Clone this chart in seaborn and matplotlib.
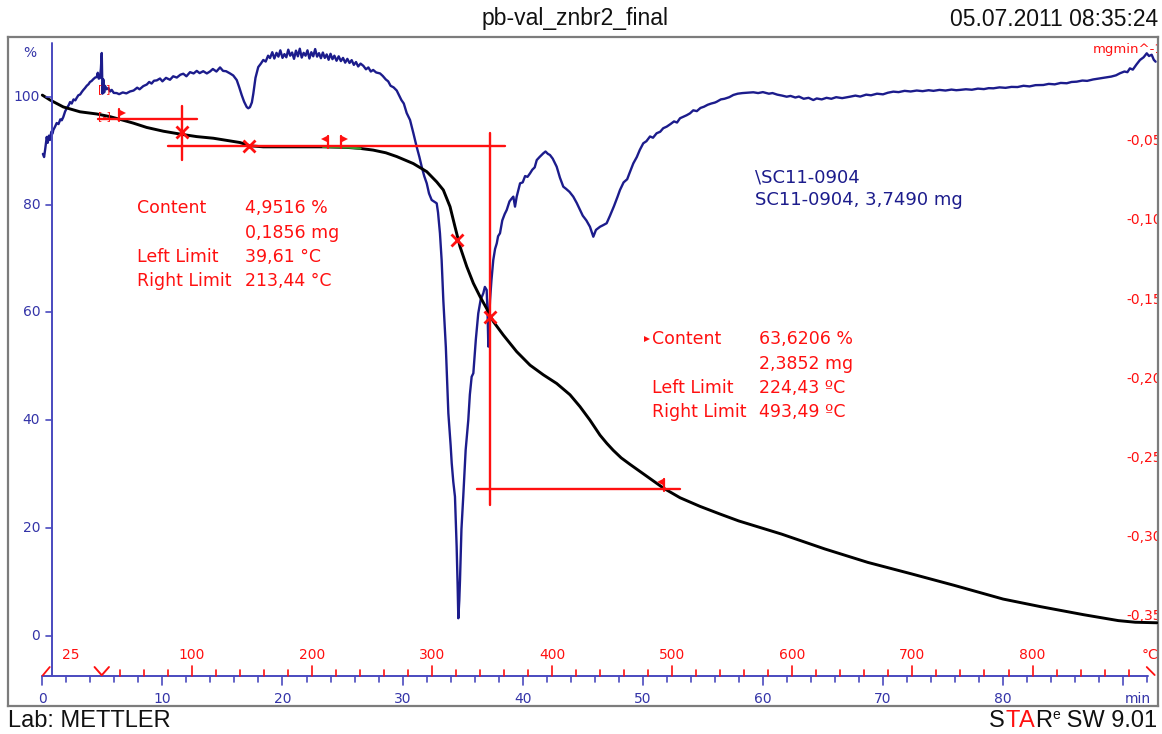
import matplotlib
matplotlib.use("Agg")
import matplotlib.pyplot as plt
import numpy as np
import pandas as pd
import seaborn as sns

sns.set_theme(style="white")
plt.rcParams["font.family"] = ["DejaVu Sans"]

# ---------------------------------------------------------------- data
# TGA mass curve: time (min) vs. remaining mass (%)
tga_time = [0.0, 0.64, 1.75, 3.14, 4.53, 5.64, 6.47, 7.58, 8.69, 10.08, 11.66,
            12.86, 14.24, 15.63, 16.46, 17.29, 18.40, 21.46, 23.37, 25.35, 26.50,
            27.54, 28.60, 29.51, 30.89, 32.01, 32.84, 33.39, 33.95, 34.36, 34.78,
            35.34, 35.89, 36.45, 37.00, 37.55, 38.38, 39.50, 40.61, 41.72, 42.83,
            43.94, 44.77, 45.60, 46.44, 47.00, 47.54, 48.20, 48.93, 50.32, 51.71,
            53.10, 54.76, 56.40, 57.98, 61.56, 65.15, 68.74, 72.33, 75.92, 80.00,
            83.10, 86.70, 89.60, 91.00, 92.80]
tga_mass = [100.3, 99.4, 98.1, 97.2, 96.8, 96.3, 95.8, 95.1, 94.3, 93.6, 93.0,
            92.6, 92.3, 91.8, 91.5, 90.9, 90.7, 90.7, 90.7, 90.6, 90.4,
            90.1, 89.6, 88.9, 87.6, 86.1, 84.2, 82.7, 79.6, 75.9, 72.2,
            68.5, 65.4, 62.9, 60.7, 58.3, 55.8, 52.7, 50.2, 48.4, 46.8,
            44.7, 42.5, 40.0, 37.2, 35.7, 34.4, 33.0, 31.8, 29.6, 27.4,
            25.6, 24.0, 22.6, 21.3, 18.85, 16.1, 13.6, 11.5, 9.35, 6.8,
            5.4, 3.9, 2.8, 2.5, 2.4]

# DTG curve (mg/min) as (time, rate) pairs, split by segment
dtg_isothermal = [
    (0.05, -0.0580), (0.15, -0.0600), (0.25, -0.0545), (0.37, -0.0473), (0.45, -0.0510),
    (0.55, -0.0465), (0.64, -0.0492), (0.75, -0.0440), (0.85, -0.0452), (0.92, -0.0429),
    (1.05, -0.0410), (1.20, -0.0385), (1.35, -0.0392), (1.50, -0.0362), (1.62, -0.0368),
    (1.75, -0.0347), (1.90, -0.0312), (2.05, -0.0290), (2.20, -0.0272), (2.31, -0.0253),
    (2.45, -0.0262), (2.60, -0.0236), (2.75, -0.0242), (2.86, -0.0227), (3.00, -0.0210),
    (3.15, -0.0205), (3.30, -0.0188), (3.41, -0.0177), (3.55, -0.0165), (3.70, -0.0150),
    (3.85, -0.0140), (3.97, -0.0126), (4.10, -0.0120), (4.25, -0.0108), (4.40, -0.0098),
    (4.53, -0.0095), (4.62, -0.0068), (4.70, -0.0105), (4.80, -0.0101), (4.88, -0.0040),
    (4.95, 0.0057), (5.01, -0.0200), (5.08, -0.0110), (5.15, -0.0192), (5.22, -0.0150),
    (5.35, -0.0172), (5.50, -0.0164), (5.65, -0.0186), (5.78, -0.0176)]
dtg_first_step = [
    (5.95, -0.0195), (6.19, -0.0196), (6.40, -0.0203), (6.70, -0.0192), (7.00, -0.0198),
    (7.30, -0.0186), (7.60, -0.0180), (7.90, -0.0162), (8.10, -0.0172), (8.41, -0.0152),
    (8.70, -0.0142), (8.90, -0.0126), (9.10, -0.0136), (9.30, -0.0118), (9.53, -0.0116),
    (9.80, -0.0104), (10.00, -0.0122), (10.30, -0.0100), (10.63, -0.0112), (10.90, -0.0090),
    (11.20, -0.0098), (11.50, -0.0080), (11.74, -0.0074), (12.00, -0.0090), (12.30, -0.0064),
    (12.60, -0.0072), (12.86, -0.0056), (13.10, -0.0070), (13.40, -0.0058), (13.70, -0.0072),
    (13.96, -0.0060), (14.20, -0.0044), (14.50, -0.0060), (14.80, -0.0034), (15.05, -0.0056),
    (15.30, -0.0058), (15.63, -0.0072), (15.90, -0.0085), (16.19, -0.0114), (16.40, -0.0160),
    (16.60, -0.0208), (16.80, -0.0250), (17.02, -0.0284), (17.15, -0.0292), (17.29, -0.0285),
    (17.45, -0.0255), (17.57, -0.0200), (17.75, -0.0100), (17.98, -0.0032), (18.20, -0.0010),
    (18.40, 0.0013), (18.60, 0.0003), (18.80, 0.0040), (18.96, 0.0025)]
dtg_plateau = [
    (19.15, 0.0062), (19.32, 0.0022), (19.50, 0.0058), (19.66, 0.0034), (19.82, 0.0074),
    (20.00, 0.0026), (20.16, 0.0050), (20.32, 0.0030), (20.48, 0.0078), (20.64, 0.0040),
    (20.80, 0.0060), (20.96, 0.0020), (21.12, 0.0072), (21.28, 0.0036), (21.44, 0.0084),
    (21.60, 0.0028), (21.76, 0.0058), (21.92, 0.0040), (22.08, 0.0074), (22.24, 0.0022),
    (22.40, 0.0062), (22.56, 0.0036), (22.72, 0.0082), (22.88, 0.0034), (23.04, 0.0056),
    (23.20, 0.0024), (23.36, 0.0060), (23.52, 0.0026), (23.68, 0.0048), (23.84, 0.0014),
    (24.00, 0.0052), (24.16, 0.0018), (24.32, 0.0040), (24.50, 0.0008), (24.68, 0.0036),
    (24.86, 0.0006), (25.04, 0.0026), (25.22, -0.0004), (25.40, 0.0020), (25.58, -0.0006),
    (25.76, 0.0012), (25.94, -0.0018), (26.12, 0.0000), (26.30, -0.0028), (26.50, -0.0010),
    (26.73, -0.0024), (26.95, -0.0046), (27.15, -0.0034), (27.35, -0.0060), (27.55, -0.0050),
    (27.80, -0.0066), (28.12, -0.0072), (28.35, -0.0088), (28.60, -0.0110), (28.80, -0.0122),
    (29.00, -0.0150), (29.25, -0.0160), (29.51, -0.0180), (29.70, -0.0210), (29.90, -0.0240),
    (30.10, -0.0262), (30.34, -0.0322)]
dtg_main_step = [
    (30.62, -0.0366), (30.90, -0.0450), (31.17, -0.0535), (31.40, -0.0600), (31.59, -0.0661),
    (31.80, -0.0720), (32.01, -0.0766), (32.20, -0.0830), (32.42, -0.0871), (32.60, -0.0880),
    (32.84, -0.0892), (32.95, -0.0950), (33.11, -0.1081), (33.25, -0.1250), (33.39, -0.1503),
    (33.60, -0.1800), (33.81, -0.2218), (34.00, -0.2420), (34.09, -0.2533), (34.22, -0.2650),
    (34.36, -0.2744), (34.50, -0.3060), (34.58, -0.3300), (34.64, -0.3512), (34.72, -0.3400),
    (34.78, -0.3270), (34.90, -0.2950), (35.05, -0.2744), (35.25, -0.2450), (35.47, -0.2260),
    (35.60, -0.2100), (35.75, -0.1987), (35.89, -0.1965), (36.10, -0.1750), (36.30, -0.1587),
    (36.50, -0.1500), (36.72, -0.1460), (36.85, -0.1420), (37.00, -0.1439), (37.08, -0.1600),
    (37.14, -0.1797), (37.20, -0.1650), (37.28, -0.1503), (37.40, -0.1376), (37.55, -0.1250),
    (37.70, -0.1180), (37.84, -0.1145), (37.95, -0.1100), (38.11, -0.1081), (38.30, -0.1000),
    (38.50, -0.0960), (38.67, -0.0934), (38.90, -0.0880), (39.10, -0.0860), (39.22, -0.0850),
    (39.36, -0.0913), (39.50, -0.0850), (39.78, -0.0766), (40.00, -0.0760), (40.20, -0.0720),
    (40.40, -0.0725), (40.61, -0.0703), (40.80, -0.0680), (41.00, -0.0665), (41.17, -0.0619),
    (41.40, -0.0600), (41.72, -0.0576), (41.90, -0.0565), (42.10, -0.0580), (42.27, -0.0587),
    (42.50, -0.0610), (42.83, -0.0661), (43.10, -0.0730), (43.38, -0.0787), (43.60, -0.0800),
    (43.90, -0.0820), (44.21, -0.0850), (44.50, -0.0890), (44.77, -0.0934), (45.00, -0.0970),
    (45.30, -0.1000), (45.60, -0.1040), (45.88, -0.1103), (46.10, -0.1060), (46.44, -0.1040),
    (46.70, -0.1030), (46.99, -0.1018), (47.27, -0.0970), (47.60, -0.0910), (47.90, -0.0850),
    (48.10, -0.0808), (48.40, -0.0760), (48.70, -0.0740), (48.90, -0.0700), (49.21, -0.0640)]
dtg_tail = [
    (49.50, -0.0600), (49.75, -0.0555), (50.04, -0.0513), (50.30, -0.0500), (50.60, -0.0470),
    (50.85, -0.0478), (51.15, -0.0450), (51.45, -0.0440), (51.70, -0.0418), (51.99, -0.0408),
    (52.30, -0.0392), (52.60, -0.0375), (52.85, -0.0382), (53.10, -0.0355), (53.40, -0.0345),
    (53.65, -0.0336), (53.93, -0.0324), (54.20, -0.0305), (54.50, -0.0310), (54.80, -0.0290),
    (55.10, -0.0282), (55.40, -0.0270), (55.70, -0.0262), (56.00, -0.0256), (56.15, -0.0251),
    (56.50, -0.0236), (56.80, -0.0232), (57.20, -0.0222), (57.54, -0.0208), (57.90, -0.0200),
    (58.30, -0.0196), (58.70, -0.0194), (59.20, -0.0191), (59.60, -0.0196), (60.00, -0.0190),
    (60.50, -0.0200), (60.80, -0.0196), (61.20, -0.0206), (61.60, -0.0212), (61.98, -0.0219),
    (62.30, -0.0214), (62.70, -0.0224), (63.00, -0.0218), (63.40, -0.0232), (63.80, -0.0226),
    (64.20, -0.0240), (64.48, -0.0230), (64.90, -0.0236), (65.30, -0.0226), (65.70, -0.0232),
    (66.10, -0.0222), (66.60, -0.0228), (67.25, -0.0219), (67.70, -0.0212), (68.10, -0.0218),
    (68.60, -0.0206), (69.00, -0.0210), (69.50, -0.0200), (70.00, -0.0204), (70.40, -0.0194),
    (70.86, -0.0187), (71.30, -0.0190), (71.80, -0.0182), (72.30, -0.0186), (72.81, -0.0180),
    (73.30, -0.0184), (73.80, -0.0178), (74.20, -0.0182), (74.70, -0.0176), (75.20, -0.0180),
    (75.70, -0.0174), (76.10, -0.0178), (76.41, -0.0176), (76.90, -0.0172), (77.40, -0.0175),
    (77.90, -0.0168), (78.40, -0.0171), (78.80, -0.0165), (79.19, -0.0166), (79.70, -0.0160),
    (80.20, -0.0163), (80.70, -0.0157), (81.20, -0.0158), (81.70, -0.0150), (82.20, -0.0154),
    (82.70, -0.0146), (83.35, -0.0145), (83.80, -0.0138), (84.30, -0.0141), (84.80, -0.0132),
    (85.30, -0.0134), (85.70, -0.0126), (86.13, -0.0124), (86.60, -0.0117), (87.00, -0.0119),
    (87.50, -0.0110), (88.07, -0.0103), (88.50, -0.0098), (89.00, -0.0092), (89.40, -0.0084),
    (89.73, -0.0071), (90.10, -0.0060), (90.35, -0.0064), (90.56, -0.0040), (90.80, -0.0048),
    (91.10, -0.0016), (91.40, 0.0013), (91.70, 0.0030), (91.96, 0.0055), (92.15, 0.0038),
    (92.37, 0.0046), (92.55, 0.0014), (92.70, 0.0002)]

# temperature programme: 25 °C hold, then 10 K/min
start_temp = 25.0
heating_start = 4.95
heating_rate = 10.0

# step evaluation results
sample_name = "SC11-0904"
sample_mass = "3,7490 mg"
step1_content, step1_mg, step1_left, step1_right = 4.9516, 0.1856, 39.61, 213.44
step2_content, step2_mg, step2_left, step2_right = 63.6206, 2.3852, 224.43, 493.49
step1_upper = 95.86
step1_mid_time = 11.63
step2_mid_time = 37.28
onset_points = [(17.25, 90.88), (34.55, 73.4)]

time_ticks = list(range(0, 93, 2))
time_labels = list(range(0, 81, 10))
temp_ticks = list(range(40, 881, 20))
temp_labels = list(range(100, 801, 100))
mass_ticks = [0, 20, 40, 60, 80, 100]
rate_ticks = [-0.05, -0.10, -0.15, -0.20, -0.25, -0.30, -0.35]

# ---------------------------------------------------------------- layout
W, H = 1162, 734
fig = plt.figure(figsize=(W / 100, H / 100), dpi=100)
fig.patch.set_facecolor("white")


def fx(px):
    return px / W


def fy(py):
    return 1 - py / H


ax = fig.add_axes([fx(8), fy(706), fx(1158) - fx(8), fy(37) - fy(706)])
ax2 = ax.twinx()

XMIN, XMAX = -2.856, 92.898
YMIN, YMAX = -13.04, 111.08
RMIN, RMAX = -0.4066, 0.0158

px_x = (XMAX - XMIN) / 1150.0   # minutes per pixel
px_y = (YMAX - YMIN) / 669.0    # percent per pixel

NAVY = "#1c1c8c"
AXBLUE = "#4a4abf"
LBLUE = "#3434a8"
RED = "#ff1010"


def temp_to_time(T):
    return heating_start + (T - start_temp) / heating_rate


def fmt(v, nd):
    return f"{v:.{nd}f}".replace(".", ",")


# ---------------------------------------------------------------- curves
dtg = pd.DataFrame(dtg_isothermal + dtg_first_step + dtg_plateau + dtg_main_step + dtg_tail,
                   columns=["time", "rate"])
sns.lineplot(data=dtg, x="time", y="rate", ax=ax2, color=NAVY, linewidth=1.7,
             estimator=None, sort=False)

tga = pd.DataFrame({"time": tga_time, "mass": tga_mass})
sns.lineplot(data=tga, x="time", y="mass", ax=ax, color="black", linewidth=2.1,
             estimator=None, sort=False, zorder=3)
green = tga[(tga.time >= 23.3) & (tga.time <= 26.6)]
sns.lineplot(data=green, x="time", y="mass", ax=ax, color="#2ea02e", linewidth=1.6,
             estimator=None, sort=False, zorder=4)

for a in (ax, ax2):
    a.set_xticks([])
    a.set_yticks([])
    a.set_xlabel("")
    a.set_ylabel("")
    if a.get_legend():
        a.get_legend().remove()
for s in ax.spines.values():
    s.set_color("#7c7c7c")
    s.set_linewidth(1.6)
for s in ax2.spines.values():
    s.set_visible(False)
ax.set_zorder(ax2.get_zorder() + 1)
ax.patch.set_visible(False)
ax.set_xlim(XMIN, XMAX)
ax.set_ylim(YMIN, YMAX)
ax2.set_ylim(RMIN, RMAX)

# ---------------------------------------------------------------- step evaluation
step1_lower = step1_upper - step1_content
step2_lower = step1_lower - step2_content
lw_r = 1.7
ax.plot([4.65, 12.88], [step1_upper, step1_upper], color=RED, lw=lw_r, zorder=5)
ax.plot([10.47, 38.50], [step1_lower, step1_lower], color=RED, lw=lw_r, zorder=5)
ax.plot([step1_mid_time] * 2, [step1_upper + 13 * px_y, step1_lower - 14 * px_y],
        color=RED, lw=lw_r, zorder=5)
ax.plot([step2_mid_time] * 2, [step1_lower + 13 * px_y, step2_lower - 16 * px_y],
        color=RED, lw=lw_r, zorder=5)
ax.plot([36.2, 53.1], [step2_lower, step2_lower], color=RED, lw=lw_r, zorder=5)

ax.plot([step1_mid_time], [(step1_upper + step1_lower) / 2], marker="x", ms=9, mew=2,
        color=RED, zorder=6)
ax.plot([step2_mid_time], [(step1_lower + step2_lower) / 2], marker="x", ms=9, mew=2,
        color=RED, zorder=6)
for (ot, om) in onset_points:
    ax.plot([ot], [om], marker="x", ms=9, mew=2, color=RED, zorder=6)


def flag(T, level, side):
    t = temp_to_time(T)
    ax.plot([t, t], [level - 2 * px_y, level + 10 * px_y], color=RED, lw=1.6, zorder=6)
    dx = 3 * px_x if side == ">" else -3 * px_x
    ax.plot([t + dx], [level + 6.5 * px_y], marker=side, ms=5.5, color=RED,
            mew=0, zorder=6)


flag(step1_left, step1_upper, ">")
flag(step1_right, step1_lower, "<")
flag(step2_left, step1_lower, ">")
flag(step2_right, step2_lower, "<")

ax.text(5.18, 101.4, "[ ]", color=RED, fontsize=8, ha="center", va="center", zorder=6)
ax.text(5.18, 96.4, "[-]", color=RED, fontsize=8, ha="center", va="center", zorder=6)

# result blocks
fs = 12.5
block1 = [("Content", f"{fmt(step1_content, 4)} %"), ("", f"{fmt(step1_mg, 4)} mg"),
          ("Left Limit", f"{fmt(step1_left, 2)} °C"), ("Right Limit", f"{fmt(step1_right, 2)} °C")]
for i, (lab, val) in enumerate(block1):
    yy = 79.3 - i * 24.4 * px_y
    ax.text(7.89, yy, lab, color=RED, fontsize=fs, va="center", ha="left", zorder=7)
    ax.text(16.85, yy, val, color=RED, fontsize=fs, va="center", ha="left", zorder=7)

block2 = [("Content", f"{fmt(step2_content, 4)} %"), ("", f"{fmt(step2_mg, 4)} mg"),
          ("Left Limit", f"{fmt(step2_left, 2)} ºC"), ("Right Limit", f"{fmt(step2_right, 2)} ºC")]
for i, (lab, val) in enumerate(block2):
    yy = 55.0 - i * 24.3 * px_y
    ax.text(50.75, yy, lab, color=RED, fontsize=fs, va="center", ha="left", zorder=7)
    ax.text(59.68, yy, val, color=RED, fontsize=fs, va="center", ha="left", zorder=7)
ax.plot([50.35], [55.0], marker=">", ms=5, color=RED, mew=0, zorder=7)

ax.text(59.34, 85.1, "\\" + sample_name, color=NAVY, fontsize=13, va="center", ha="left")
ax.text(59.34, 80.8, f"{sample_name}, {sample_mass}", color=NAVY, fontsize=13,
        va="center", ha="left")

# ---------------------------------------------------------------- axes drawn by hand
base = -7.48
left_x = 0.83
ax.plot([0, 92.1], [base, base], color=AXBLUE, lw=1.4, zorder=4)
ax.plot([left_x, left_x], [base, 109.9], color=AXBLUE, lw=1.4, zorder=4)

for tm in time_ticks:
    ln = 9 if tm % 10 == 0 else 6
    ax.plot([tm, tm], [base, base - ln * px_y], color=AXBLUE, lw=1.2, zorder=4)
for tm in time_labels:
    ax.text(tm, base - 23 * px_y, str(tm), color=LBLUE, fontsize=10, ha="center", va="center")
ax.text(91.2, base - 23 * px_y, "min", color=LBLUE, fontsize=10, ha="center", va="center")

for T in temp_ticks:
    ln = 10 if T % 100 == 0 else 6
    t = temp_to_time(T)
    ax.plot([t, t], [base, base + ln * px_y], color=RED, lw=1.2, zorder=4)
for T in temp_labels:
    ax.text(temp_to_time(T), base + 21 * px_y, str(T), color=RED, fontsize=10,
            ha="center", va="center")
ax.text(2.4, base + 21 * px_y, f"{start_temp:.0f}", color=RED, fontsize=10, ha="center", va="center")
ax.text(92.2, base + 21 * px_y, "°C", color=RED, fontsize=10, ha="center", va="center")
# start / heating-start / end markers on the temperature scale
ax.plot([0.03, 0.62], [base + 0.5 * px_y, base + 9 * px_y], color=RED, lw=1.3, zorder=4)
ax.plot([heating_start - 0.6, heating_start, heating_start + 0.6],
        [base + 9 * px_y, base + 0.8 * px_y, base + 9 * px_y], color=RED, lw=1.4, zorder=4)
ax.plot([91.96, 92.62], [base + 9 * px_y, base + 1 * px_y], color=RED, lw=1.3, zorder=4)

for m in mass_ticks:
    ax.plot([left_x - 6 * px_x, left_x], [m, m], color=AXBLUE, lw=1.2, zorder=4)
    ax.text(left_x - 12 * px_x, m, str(m), color=LBLUE, fontsize=10, ha="right", va="center")
ax.text(-1.0, 108.1, "%", color=LBLUE, fontsize=10, ha="center", va="center")

for r in rate_ticks:
    ax2.text(93.25, r, fmt(r, 2), color=RED, fontsize=10, ha="right", va="center",
             clip_on=True)
ax2.text(93.4, 0.0076, "mgmin^-1", color=RED, fontsize=9.5, ha="right", va="center",
         clip_on=True)

# ---------------------------------------------------------------- header / footer
hf = "Liberation Sans"
ink = "#111111"
fig.text(fx(575), fy(25.5), "pb-val_znbr2_final", ha="center", va="baseline",
         fontsize=16.5, family=hf, color=ink)
fig.text(fx(1158), fy(25.5), "05.07.2011 08:35:24", ha="right", va="baseline",
         fontsize=16.5, family=hf, color=ink)
fig.text(fx(8), fy(727), "Lab: METTLER", ha="left", va="baseline",
         fontsize=17, family=hf, color=ink)

renderer = fig.canvas.get_renderer()
x_right = 1157.0
for piece, col, size, rise in [(" SW 9.01", ink, 17, 0), ("e", ink, 10, 8),
                               ("R", ink, 17, 0), ("A", RED, 17, 0),
                               ("T", RED, 17, 0), ("S", ink, 17, 0)]:
    txt = fig.text(fx(x_right), fy(727 - rise), piece, ha="right", va="baseline",
                   fontsize=size, family=hf, color=col)
    bb = txt.get_window_extent(renderer)
    x_right = bb.x0

fig.savefig("out.png", dpi=100, facecolor="white")
